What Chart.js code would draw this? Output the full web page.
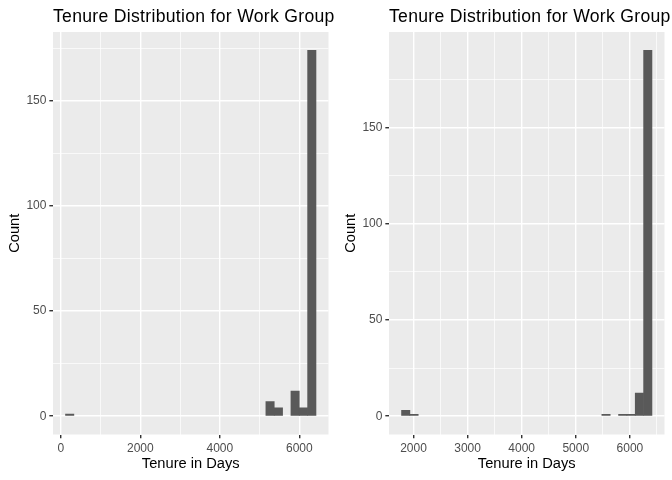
<!DOCTYPE html>
<html>
<head>
<meta charset="utf-8">
<script src="https://cdn.jsdelivr.net/npm/chart.js@4/dist/chart.umd.min.js"></script>
<style>
  html, body { margin: 0; padding: 0; background: #fff; }
  .panel { position: absolute; top: 0; width: 336px; height: 480px; }
</style>
</head>
<body>
<div class="panel" style="left:0"><canvas id="leftChart" width="336" height="480"></canvas></div>
<div class="panel" style="left:336px"><canvas id="rightChart" width="336" height="480"></canvas></div>
<script>
const chartTitle = "Tenure Distribution for Work Group";
const xTitle = "Tenure in Days";
const yTitle = "Count";

// left histogram (30 bins)
const leftBinCenters = [224, 434, 644, 854, 1064, 1274, 1484, 1694, 1904, 2114,
    2324, 2534, 2744, 2954, 3164, 3374, 3584, 3794, 4004, 4214,
    4424, 4634, 4844, 5054, 5264, 5474, 5684, 5894, 6104, 6314];
const leftCounts = [1, 0, 0, 0, 0, 0, 0, 0, 0, 0,
    0, 0, 0, 0, 0, 0, 0, 0, 0, 0,
    0, 0, 0, 0, 7, 4, 0, 12, 4, 174];
const leftXLimits = [-196, 6734];
const leftYLimits = [-8.7, 182.7];
const leftXBreaks = [0, 2000, 4000, 6000];
const leftXMinor = [1000, 3000, 5000];
const leftYBreaks = [0, 50, 100, 150];
const leftYMinor = [25, 75, 125, 175];

// right histogram (30 bins)
const rightBinCenters = [1856, 2010, 2165, 2319, 2473, 2628, 2782, 2936, 3090, 3245,
    3399, 3553, 3708, 3862, 4016, 4171, 4325, 4479, 4633, 4788,
    4942, 5096, 5251, 5405, 5559, 5714, 5868, 6022, 6176, 6331];
const rightCounts = [3, 1, 0, 0, 0, 0, 0, 0, 0, 0,
    0, 0, 0, 0, 0, 0, 0, 0, 0, 0,
    0, 0, 0, 0, 1, 0, 1, 1, 12, 190];
const rightXLimits = [1547, 6640];
const rightYLimits = [-9.5, 199.5];
const rightXBreaks = [2000, 3000, 4000, 5000, 6000];
const rightXMinor = [2500, 3500, 4500, 5500, 6500];
const rightYBreaks = [0, 50, 100, 150];
const rightYMinor = [25, 75, 125, 175];

const FONT = "'Liberation Sans', Arial, sans-serif";

// gri panel arkaplanı + başlık
const panelDeco = {
    id: 'panelDeco',
    beforeDraw(chart){
        const {ctx, chartArea: a} = chart;
        ctx.save();
        ctx.fillStyle = '#EBEBEB';
        ctx.fillRect(a.left, a.top, a.right - a.left, a.bottom - a.top);
        ctx.restore();
    },
    afterDraw(chart){
        const {ctx, chartArea: a} = chart;
        ctx.save();
        ctx.font = "17.6px " + FONT;
        ctx.letterSpacing = '0.3px';
        ctx.fillStyle = '#000000';
        ctx.textAlign = 'left';
        ctx.textBaseline = 'alphabetic';
        ctx.fillText(chartTitle, a.left, 21.5);
        ctx.restore();
    }
};

function axis(limits, major, minor, title, isX){
    const all = major.concat(minor).sort((a, b) => a - b);
    const isMajor = c => !!(c.tick && major.includes(c.tick.value));
    return {
        type: 'linear',
        min: limits[0],
        max: limits[1],
        offset: false,
        afterBuildTicks: s => { s.ticks = all.map(v => ({value: v})); },
        afterFit: s => { if(isX){ s.height = 45.5; } else { s.width = 53; } },
        ticks: {
            autoSkip: false,
            maxRotation: 0,
            padding: 2.93,
            color: '#4D4D4D',
            font: {family: FONT, size: 12},
            callback: v => major.includes(v) ? String(v) : ''
        },
        grid: {
            color: '#FFFFFF',
            lineWidth: c => isMajor(c) ? 1.42 : 0.71,
            tickColor: c => isMajor(c) ? '#333333' : 'rgba(0,0,0,0)',
            tickWidth: 1.42,
            tickLength: 3.67,
            drawTicks: true,
            offset: false
        },
        border: {display: false},
        title: {
            display: true,
            text: title,
            color: '#000000',
            font: {family: FONT, size: 14.67},
            padding: isX ? {top: 3.67, bottom: 7} : {top: 6.2, bottom: 3.67}
        }
    };
}

function drawHistogram(canvasId, centers, counts, xLim, yLim, xMaj, xMin, yMaj, yMin){
    const ctx = document.getElementById(canvasId).getContext('2d');
    return new Chart(ctx, {
        type: 'bar',
        data: {
            datasets: [{
                data: centers.map((x, i) => ({x: x, y: counts[i]})),
                backgroundColor: '#595959',
                borderWidth: 0,
                // boş kutular çizgi gibi görünmesin
                inflateAmount: c => (c.raw && c.raw.y > 0) ? 'auto' : 0,
                barPercentage: 1,
                categoryPercentage: 1
            }]
        },
        options: {
            responsive: false,
            animation: false,
            events: [],
            layout: {padding: {top: 32, right: 7.5, bottom: 0, left: 0}},
            plugins: {legend: {display: false}, tooltip: {enabled: false}, title: {display: false}},
            scales: {
                x: axis(xLim, xMaj, xMin, xTitle, true),
                y: axis(yLim, yMaj, yMin, yTitle, false)
            }
        },
        plugins: [panelDeco]
    });
}

drawHistogram('leftChart', leftBinCenters, leftCounts, leftXLimits, leftYLimits,
    leftXBreaks, leftXMinor, leftYBreaks, leftYMinor);
drawHistogram('rightChart', rightBinCenters, rightCounts, rightXLimits, rightYLimits,
    rightXBreaks, rightXMinor, rightYBreaks, rightYMinor);
</script>
</body>
</html>
